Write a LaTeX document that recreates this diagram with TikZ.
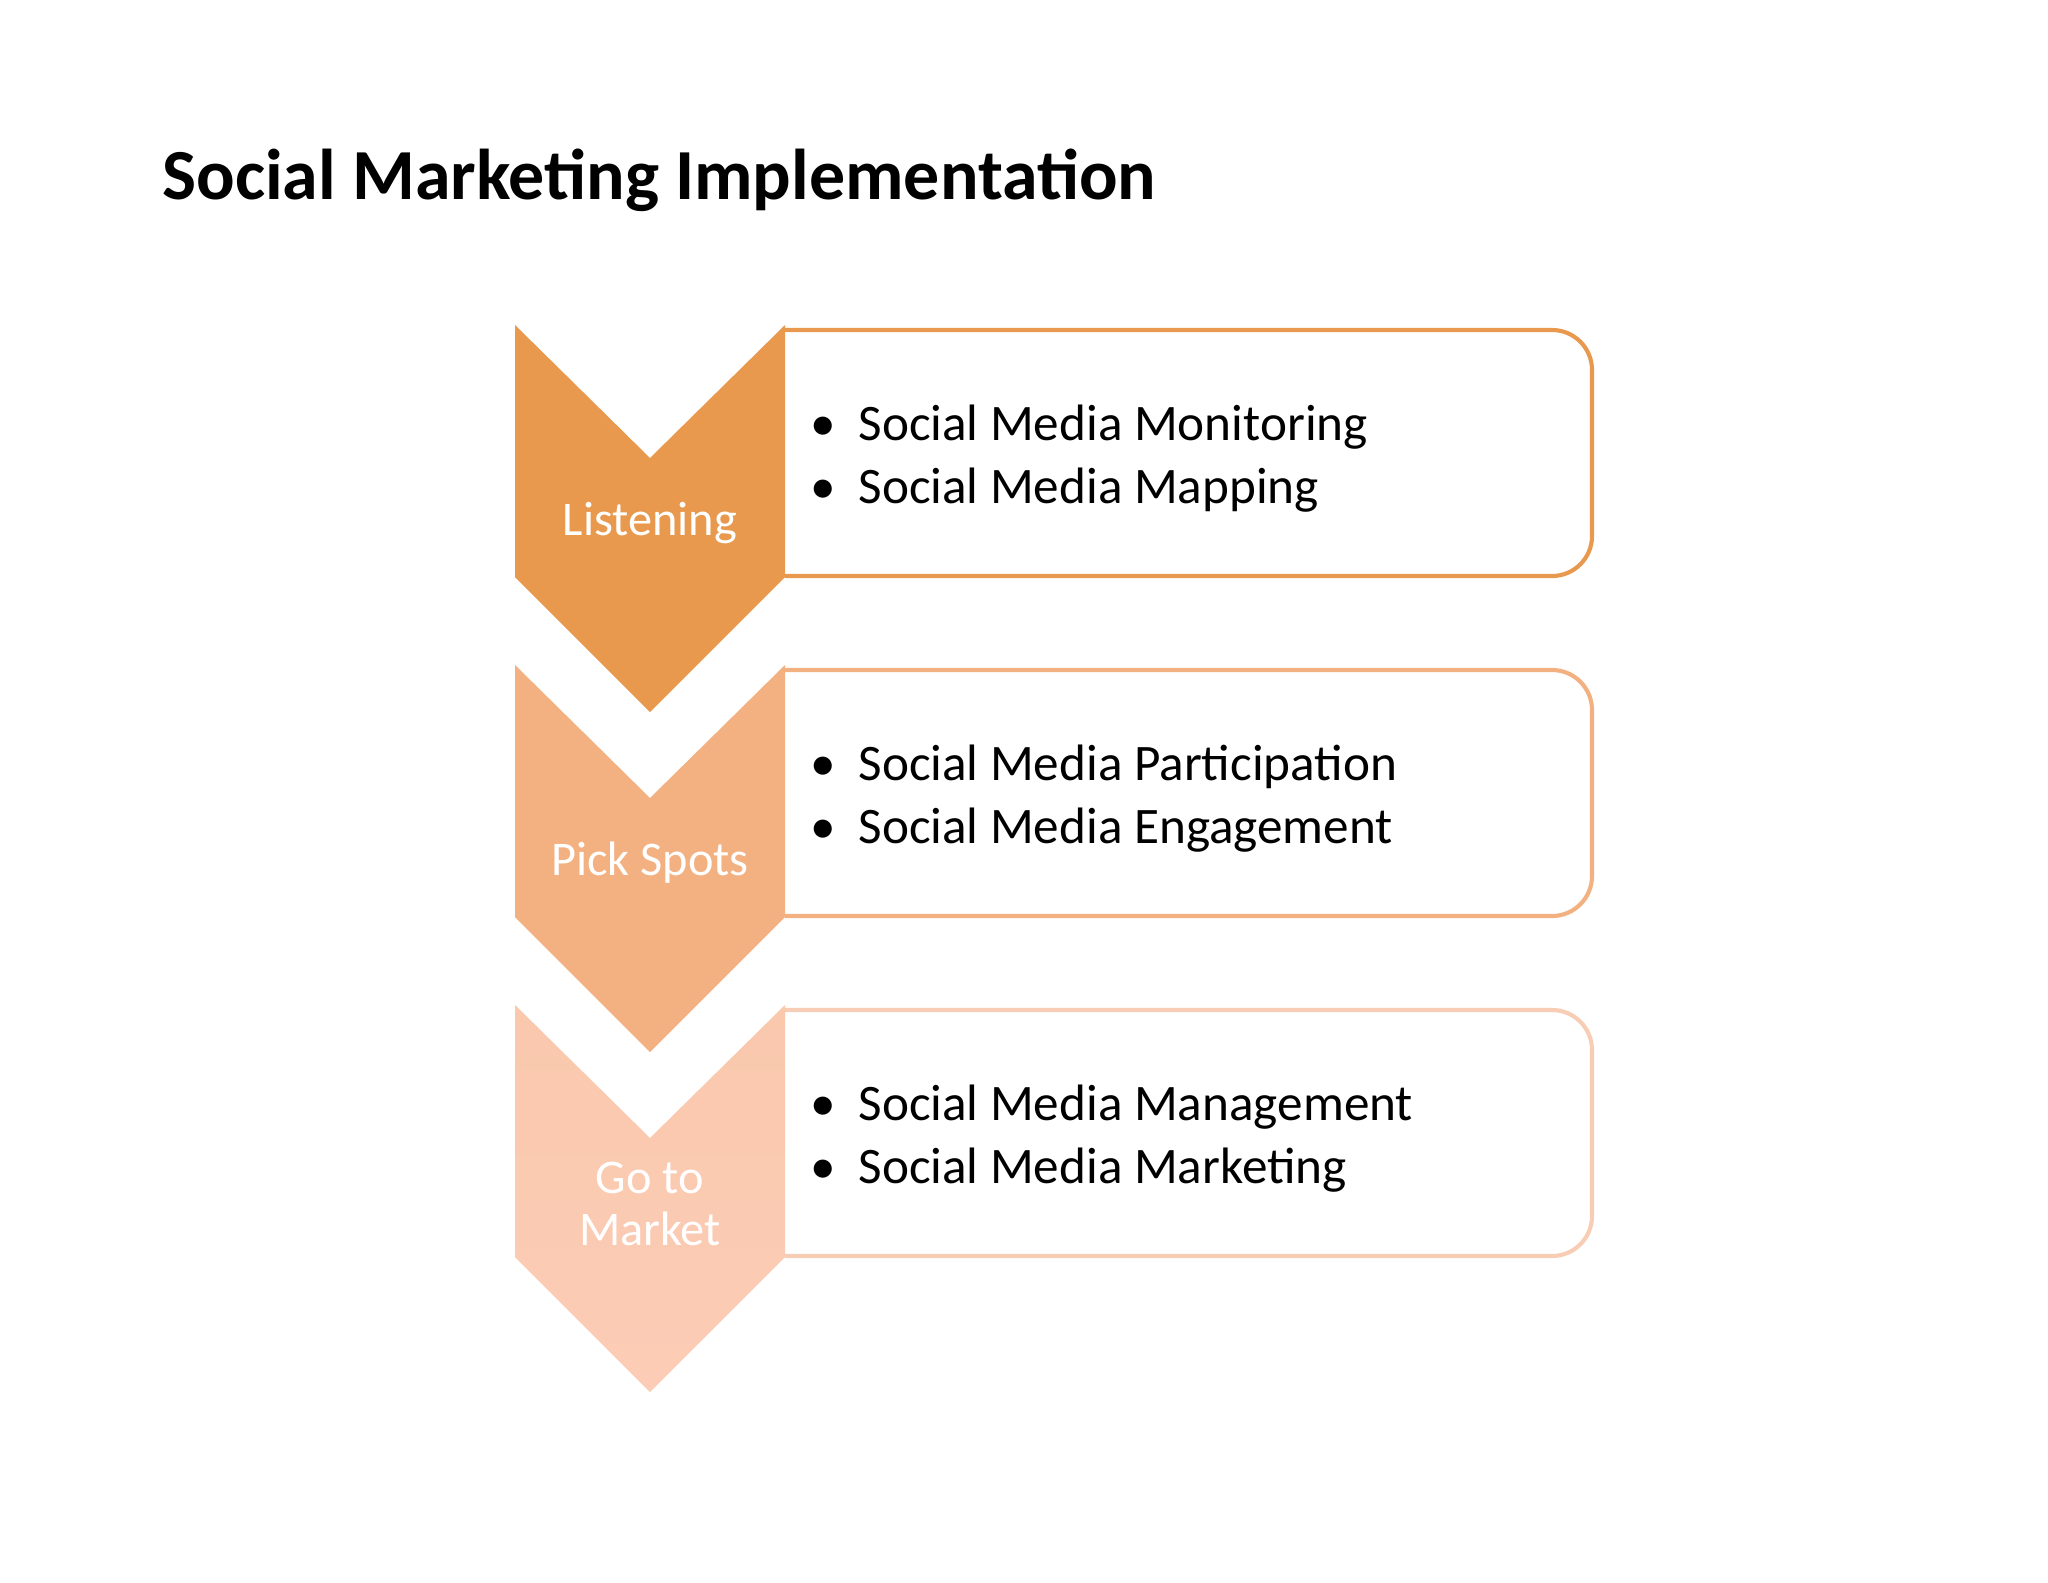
\documentclass[tikz,border=0pt]{standalone}
\usepackage{fontspec}
\setmainfont{Carlito}
\definecolor{cA}{HTML}{E8994E}
\definecolor{cB}{HTML}{F3B182}
\definecolor{cC}{HTML}{F9C8AD}
\definecolor{cCb}{HTML}{FCCCB6}
\definecolor{bC}{HTML}{F8CDB5}
\tikzset{
  itemtxt/.style={anchor=base west, font=\fontsize{19.8bp}{24bp}\selectfont, text=black, inner sep=0pt},
  bul/.style={anchor=base, font=\fontsize{19.8bp}{24bp}\selectfont, text=black, inner sep=0pt},
  lbl/.style={font=\fontsize{18.7bp}{20bp}\selectfont, text=white, align=center, inner sep=0pt},
  boxline/.style={line width=1.6pt, fill=white, rounded corners=15.5pt},
}
\begin{document}
\begin{tikzpicture}[x=0.38817pt, y=-0.38817pt]
\useasboundingbox (0,0) rectangle (2048,1582);
\fill[white] (0,0) rectangle (2048,1582);
% title
\node[anchor=base west, inner sep=0pt, font=\fontsize{27.8bp}{34bp}\selectfont\bfseries] (title) at (162,199) {Social Marketing Implementation};
% boxes
\draw[boxline, draw=cA] (785,330) -- (1592,330) -- (1592,576) -- (785,576);
\draw[boxline, draw=cB] (785,670) -- (1592,670) -- (1592,916) -- (785,916);
\draw[boxline, draw=bC] (785,1010) -- (1592,1010) -- (1592,1256) -- (785,1256);
% chevrons
\fill[cA] (515,325) -- (650,458) -- (785,325) -- (785,577) -- (650,712) -- (515,577) -- cycle;
\fill[cB] (515,665) -- (650,798) -- (785,665) -- (785,917) -- (650,1052) -- (515,917) -- cycle;
\shade[top color=cC, bottom color=cCb] (515,1005) -- (650,1138) -- (785,1005) -- (785,1257) -- (650,1392) -- (515,1257) -- cycle;
% labels
\node[lbl] (l1) at (650,523) {Listening};
\node[lbl] (l2) at (650,863) {Pick Spots};
\node[lbl] (l3) at (650,1204) {Go to\\Market};
% items
\node[bul] (b1a) at (823,440) {•};
\node[itemtxt] (t1a) at (858,440) {Social Media Monitoring};
\node[bul] (b1b) at (823,503) {•};
\node[itemtxt] (t1b) at (858,503) {Social Media Mapping};
\node[bul] (b2a) at (823,780) {•};
\node[itemtxt] (t2a) at (858,780) {Social Media Participation};
\node[bul] (b2b) at (823,843) {•};
\node[itemtxt] (t2b) at (858,843) {Social Media Engagement};
\node[bul] (b3a) at (823,1120) {•};
\node[itemtxt] (t3a) at (858,1120) {Social Media Management};
\node[bul] (b3b) at (823,1183) {•};
\node[itemtxt] (t3b) at (858,1183) {Social Media Marketing};
\end{tikzpicture}
\end{document}
